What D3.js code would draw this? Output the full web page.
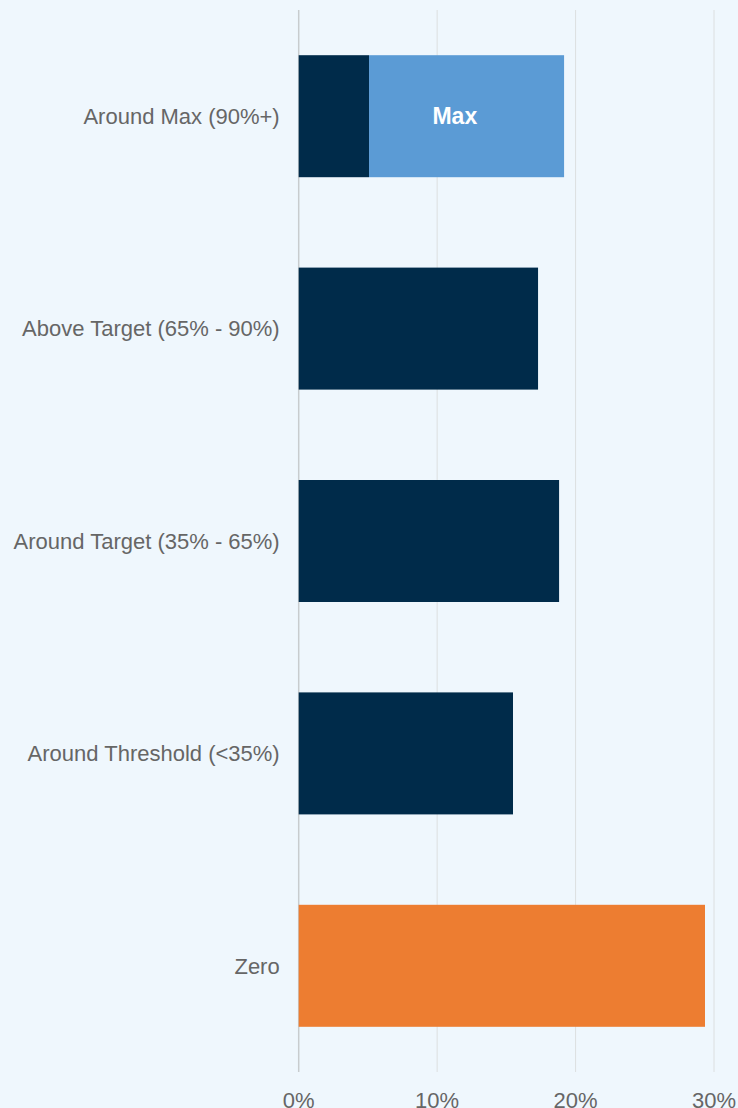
<!DOCTYPE html>
<html>
<head>
<meta charset="utf-8">
<script src="https://cdn.jsdelivr.net/npm/d3@7"></script>
<style>
  html, body { margin: 0; padding: 0; background: #eff7fd; }
  svg { display: block; font-family: "Liberation Sans", Arial, sans-serif; }
</style>
</head>
<body>
<div class="chart"></div>
<script>
const categories = ['Around Max (90%+)', 'Above Target (65% - 90%)', 'Around Target (35% - 65%)', 'Around Threshold (<35%)', 'Zero']
const baseValues = [5.08, 17.29, 18.81, 15.48, 29.35]
const maxValues = [14.09, 0, 0, 0, 0]
const barColors = ['#002b4a', '#002b4a', '#002b4a', '#002b4a', '#ed7d31']
const ticks = [0, 10, 20, 30]

const W = 738
const H = 1108
const margin = { top: 10, right: 24, bottom: 36, left: 298.7 }
const height = H - margin.top - margin.bottom

const x = d3.scaleLinear().domain([0, 30]).range([0, 714 - margin.left])
const y = d3.scaleBand()
  .domain(categories)
  .range([0, height])
  .paddingInner(0.4256)
  .paddingOuter(0.2128)

const svg = d3.select('.chart')
  .append('svg')
  .attr('width', W)
  .attr('height', H)
  .style('background', '#eff7fd')
  .append('g')
  .attr('transform', `translate(${margin.left},${margin.top})`)

// grid lines
svg.selectAll('.grid')
  .data(ticks)
  .enter()
  .append('line')
  .attr('class', 'grid')
  .attr('x1', d => x(d))
  .attr('x2', d => x(d))
  .attr('y1', 0)
  .attr('y2', height)
  .attr('stroke', d => d === 0 ? '#c8ccce' : '#dcdfe0')
  .attr('stroke-width', d => d === 0 ? 1.5 : 1)

// base bars
svg.selectAll('.bar')
  .data(categories)
  .enter()
  .append('rect')
  .attr('class', 'bar')
  .attr('x', x(0))
  .attr('y', d => y(d))
  .attr('width', (d, i) => x(baseValues[i]) - x(0))
  .attr('height', y.bandwidth())
  .attr('fill', (d, i) => barColors[i])

// max segment
const maxData = categories.map((c, i) => ({ c, start: baseValues[i], v: maxValues[i] })).filter(d => d.v > 0)
svg.selectAll('.max')
  .data(maxData)
  .enter()
  .append('rect')
  .attr('class', 'max')
  .attr('x', d => x(d.start))
  .attr('y', d => y(d.c))
  .attr('width', d => x(d.start + d.v) - x(d.start))
  .attr('height', y.bandwidth())
  .attr('fill', '#5b9bd5')

svg.selectAll('.max-label')
  .data(maxData)
  .enter()
  .append('text')
  .attr('x', d => x(d.start + d.v * 0.44))
  .attr('y', d => y(d.c) + y.bandwidth() / 2)
  .attr('dy', '0.35em')
  .attr('text-anchor', 'middle')
  .attr('fill', '#ffffff')
  .attr('font-weight', 'bold')
  .attr('font-size', 23)
  .text('Max')

// category labels
svg.selectAll('.cat')
  .data(categories)
  .enter()
  .append('text')
  .attr('class', 'cat')
  .attr('x', -19)
  .attr('y', d => y(d) + y.bandwidth() / 2)
  .attr('dy', '0.35em')
  .attr('text-anchor', 'end')
  .attr('fill', '#666666')
  .attr('font-size', 22)
  .text(d => d)

// x tick labels
svg.selectAll('.tick-label')
  .data(ticks)
  .enter()
  .append('text')
  .attr('class', 'tick-label')
  .attr('x', d => x(d))
  .attr('y', height + 36)
  .attr('text-anchor', 'middle')
  .attr('fill', '#666666')
  .attr('font-size', 22)
  .text(d => d + '%')
</script>
</body>
</html>
